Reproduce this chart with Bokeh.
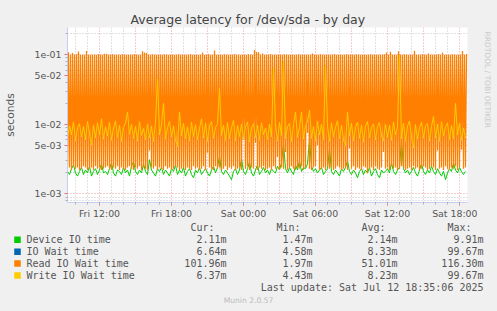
from bokeh.plotting import figure
from bokeh.models import Range1d, FixedTicker
from bokeh.layouts import column, row
from bokeh.core.properties import value
from bokeh.embed import file_html
from bokeh.resources import INLINE

# ---------------- data ----------------
title_text = "Average latency for /dev/sda - by day"
y_label = "seconds"
x_tick_hours = [12, 18, 24, 30, 36, 42]          # hours since Fri 00:00
x_tick_labels = ["Fri 12:00", "Fri 18:00", "Sat 00:00", "Sat 06:00", "Sat 12:00", "Sat 18:00"]
y_ticks = [1e-3, 5e-3, 1e-2, 5e-2, 1e-1]
y_tick_labels = ["1e-03", "5e-03", "1e-02", "5e-02", "1e-01"]

series_names = ["Device IO time", "IO Wait time", "Read IO Wait time", "Write IO Wait time"]
series_colors = ["#00CC00", "#0066B3", "#FF8000", "#FFCC00"]
cur_vals = ["2.11m", "6.64m", "101.96m", "6.37m"]
min_vals = ["1.47m", "4.58m", "1.97m", "4.43m"]
avg_vals = ["2.14m", "8.33m", "51.01m", "8.23m"]
max_vals = ["9.91m", "99.67m", "116.30m", "99.67m"]
stat_headers = ["Cur:", "Min:", "Avg:", "Max:"]
last_update = "Last update: Sat Jul 12 18:35:06 2025"
munin_version = "Munin 2.0.57"
rrd_credit = "RRDTOOL / TOBI OETIKER"

view_start = 9 + 20 / 60      # Fri 09:20
view_end = 42 + 40 / 60       # Sat 18:40

# device IO time (10-minute samples)
device_io = [
    0.0021, 0.0019, 0.0023, 0.0026, 0.0020, 0.0018, 0.0021, 0.0024, 0.0019, 0.0022, 0.0020, 0.0025, 0.0018, 0.0021, 0.0023, 0.0019, 0.0022, 0.0027, 0.0020, 0.0021,
    0.0019, 0.0023, 0.0028, 0.0020, 0.0018, 0.0022, 0.0021, 0.0019, 0.0024, 0.0020, 0.0022, 0.0018, 0.0025, 0.0029, 0.0021, 0.0019, 0.0022, 0.0020, 0.0027, 0.0021,
    0.0019, 0.0031, 0.0022, 0.0020, 0.0018, 0.0023, 0.0021, 0.0024, 0.0019, 0.0022, 0.0020, 0.0018, 0.0023, 0.0021, 0.0026, 0.0019, 0.0022, 0.0020, 0.0024, 0.0018,
    0.0021, 0.0023, 0.0019, 0.0017, 0.0022, 0.0020, 0.0024, 0.0019, 0.0021, 0.0023, 0.0020, 0.0018, 0.0022, 0.0025, 0.0020, 0.0024, 0.0035, 0.0021, 0.0019, 0.0022,
    0.0020, 0.0018, 0.0016, 0.0021, 0.0023, 0.0019, 0.0022, 0.0032, 0.0021, 0.0019, 0.0023, 0.0029, 0.0020, 0.0018, 0.0022, 0.0026, 0.0019, 0.0021, 0.0024, 0.0020,
    0.0022, 0.0019, 0.0023, 0.0021, 0.0020, 0.0025, 0.0022, 0.0028, 0.0054, 0.0023, 0.0020, 0.0024, 0.0021, 0.0019, 0.0026, 0.0022, 0.0030, 0.0021, 0.0024, 0.0023,
    0.0027, 0.0062, 0.0025, 0.0021, 0.0023, 0.0020, 0.0022, 0.0024, 0.0019, 0.0021, 0.0023, 0.0045, 0.0021, 0.0019, 0.0022, 0.0020, 0.0018, 0.0023, 0.0021, 0.0024,
    0.0030, 0.0021, 0.0019, 0.0022, 0.0020, 0.0017, 0.0021, 0.0023, 0.0019, 0.0022, 0.0020, 0.0024, 0.0018, 0.0021, 0.0023, 0.0019, 0.0017, 0.0022, 0.0020, 0.0021,
    0.0023, 0.0020, 0.0028, 0.0021, 0.0019, 0.0022, 0.0024, 0.0060, 0.0023, 0.0020, 0.0022, 0.0019, 0.0021, 0.0024, 0.0020, 0.0018, 0.0022, 0.0027, 0.0021, 0.0019,
    0.0022, 0.0020, 0.0025, 0.0021, 0.0019, 0.0023, 0.0020, 0.0018, 0.0021, 0.0016, 0.0020, 0.0023, 0.0021, 0.0028, 0.0022, 0.0020, 0.0024, 0.0021, 0.0019, 0.0021,
]

# write IO wait time (10-minute samples)
write_wait = [
    0.0062, 0.0095, 0.0071, 0.0108, 0.0058, 0.0089, 0.0102, 0.0066, 0.0093, 0.0060, 0.0110, 0.0074, 0.0050, 0.0098, 0.0064, 0.0105, 0.0070, 0.0120, 0.0061, 0.0092,
    0.0068, 0.0107, 0.0059, 0.0088, 0.0112, 0.0065, 0.0097, 0.0057, 0.0090, 0.0104, 0.0150, 0.0072, 0.0100, 0.0063, 0.0094, 0.0058, 0.0109, 0.0069, 0.0087, 0.0060,
    0.0101, 0.0064, 0.0093, 0.0057, 0.0106, 0.0450, 0.0070, 0.0098, 0.0200, 0.0061, 0.0090, 0.0110, 0.0066, 0.0095, 0.0059, 0.0048, 0.0150, 0.0068, 0.0103, 0.0062,
    0.0092, 0.0058, 0.0108, 0.0067, 0.0099, 0.0060, 0.0087, 0.0120, 0.0064, 0.0104, 0.0057, 0.0095, 0.0110, 0.0063, 0.0091, 0.0100, 0.0330, 0.0069, 0.0097, 0.0059,
    0.0106, 0.0062, 0.0090, 0.0114, 0.0058, 0.0096, 0.0067, 0.0100, 0.0061, 0.0093, 0.0108, 0.0056, 0.0089, 0.0102, 0.0065, 0.0097, 0.0059, 0.0105, 0.0071, 0.0088,
    0.0060, 0.0101, 0.0066, 0.0640, 0.0094, 0.0058, 0.0107, 0.0069, 0.0810, 0.0062, 0.0092, 0.0103, 0.0057, 0.0099, 0.0150, 0.0065, 0.0090, 0.0150, 0.0061, 0.0096,
    0.0109, 0.0160, 0.0063, 0.0093, 0.0058, 0.0110, 0.0070, 0.0101, 0.0060, 0.0700, 0.0094, 0.0057, 0.0105, 0.0066, 0.0091, 0.0112, 0.0062, 0.0097, 0.0059, 0.0049,
    0.0150, 0.0068, 0.0103, 0.0058, 0.0092, 0.0107, 0.0063, 0.0098, 0.0056, 0.0095, 0.0110, 0.0064, 0.0089, 0.0101, 0.0060, 0.0093, 0.0106, 0.0067, 0.0058, 0.0100,
    0.0065, 0.0097, 0.0059, 0.0108, 0.0070, 0.0091, 0.0997, 0.0062, 0.0104, 0.0057, 0.0094, 0.0111, 0.0066, 0.0046, 0.0099, 0.0061, 0.0090, 0.0107, 0.0063, 0.0095,
    0.0102, 0.0058, 0.0093, 0.0130, 0.0064, 0.0100, 0.0057, 0.0109, 0.0068, 0.0091, 0.0105, 0.0060, 0.0096, 0.0062, 0.0200, 0.0070, 0.0103, 0.0059, 0.0088, 0.0064,
]

# overall IO wait time: it runs along the write wait values and lies hidden under them
io_wait = write_wait

# read IO wait time alternates between peaks and troughs every 5-minute sample
read_peaks = [
    0.108, 0.100, 0.106, 0.100, 0.101, 0.111, 0.100, 0.100, 0.100, 0.113, 0.100, 0.100, 0.100, 0.100, 0.100, 0.101, 0.100, 0.100, 0.103, 0.103,
    0.100, 0.100, 0.101, 0.100, 0.100, 0.100, 0.100, 0.101, 0.100, 0.100, 0.100, 0.100, 0.100, 0.101, 0.100, 0.100, 0.100, 0.112, 0.107, 0.106,
    0.100, 0.100, 0.101, 0.100, 0.100, 0.100, 0.100, 0.100, 0.101, 0.100, 0.100, 0.100, 0.100, 0.100, 0.100, 0.101, 0.100, 0.100, 0.100, 0.100,
    0.100, 0.101, 0.100, 0.100, 0.100, 0.100, 0.100, 0.107, 0.100, 0.100, 0.101, 0.100, 0.100, 0.115, 0.100, 0.100, 0.100, 0.100, 0.101, 0.100,
    0.100, 0.100, 0.100, 0.101, 0.100, 0.100, 0.100, 0.100, 0.100, 0.100, 0.101, 0.100, 0.100, 0.117, 0.109, 0.108, 0.100, 0.104, 0.100, 0.100,
    0.100, 0.101, 0.100, 0.100, 0.100, 0.100, 0.100, 0.100, 0.101, 0.100, 0.100, 0.100, 0.100, 0.100, 0.100, 0.101, 0.100, 0.100, 0.100, 0.100,
    0.100, 0.100, 0.104, 0.100, 0.100, 0.100, 0.101, 0.100, 0.100, 0.100, 0.100, 0.100, 0.100, 0.101, 0.100, 0.100, 0.100, 0.100, 0.100, 0.101,
    0.100, 0.100, 0.100, 0.100, 0.101, 0.100, 0.100, 0.100, 0.100, 0.100, 0.100, 0.101, 0.100, 0.100, 0.100, 0.100, 0.100, 0.100, 0.101, 0.107,
    0.100, 0.110, 0.100, 0.100, 0.100, 0.112, 0.100, 0.100, 0.101, 0.100, 0.100, 0.100, 0.100, 0.114, 0.100, 0.100, 0.100, 0.101, 0.100, 0.100,
    0.104, 0.100, 0.100, 0.100, 0.100, 0.101, 0.100, 0.107, 0.100, 0.100, 0.100, 0.100, 0.101, 0.100, 0.100, 0.100, 0.100, 0.113, 0.100, 0.10196,
]
read_troughs = [
    0.0023, 0.0024, 0.0022, 0.0025, 0.0023, 0.0024, 0.0022, 0.0023, 0.0025, 0.0024, 0.0022, 0.0023, 0.0024, 0.0022, 0.0025, 0.0023, 0.0024, 0.0022, 0.0023, 0.0024,
    0.0025, 0.0023, 0.0022, 0.0024, 0.0023, 0.0025, 0.0022, 0.0024, 0.0023, 0.0022, 0.0024, 0.0025, 0.0023, 0.0022, 0.0024, 0.0023, 0.0025, 0.0022, 0.0024, 0.0023,
    0.0022, 0.0042, 0.0024, 0.0023, 0.0025, 0.0022, 0.0024, 0.0023, 0.0022, 0.0025, 0.0023, 0.0024, 0.0022, 0.0023, 0.0025, 0.0024, 0.0022, 0.0023, 0.0024, 0.0022,
    0.0024, 0.0023, 0.0022, 0.0025, 0.0023, 0.0024, 0.0022, 0.0023, 0.0025, 0.0022, 0.0039, 0.0024, 0.0023, 0.0022, 0.0025, 0.0023, 0.0024, 0.0022, 0.0023, 0.0025,
    0.0022, 0.0024, 0.0023, 0.0025, 0.0022, 0.0023, 0.0024, 0.0022, 0.0060, 0.0023, 0.0025, 0.0022, 0.0024, 0.0023, 0.0054, 0.0022, 0.0024, 0.0023, 0.0025, 0.0022,
    0.0023, 0.0024, 0.0022, 0.0025, 0.0023, 0.0034, 0.0022, 0.0024, 0.0023, 0.0040, 0.0022, 0.0024, 0.0025, 0.0023, 0.0022, 0.0024, 0.0023, 0.0025, 0.0022, 0.0024,
    0.0075, 0.0023, 0.0022, 0.0024, 0.0025, 0.0050, 0.0022, 0.0023, 0.0024, 0.0022, 0.0025, 0.0023, 0.0024, 0.0022, 0.0023, 0.0025, 0.0024, 0.0022, 0.0023, 0.0024,
    0.0022, 0.0045, 0.0023, 0.0025, 0.0022, 0.0024, 0.0023, 0.0022, 0.0025, 0.0024, 0.00197, 0.0023, 0.0024, 0.0022, 0.0025, 0.0023, 0.0022, 0.0024, 0.0040, 0.0023,
    0.0024, 0.0022, 0.0025, 0.0023, 0.0024, 0.0022, 0.0023, 0.0025, 0.0024, 0.0022, 0.0023, 0.0024, 0.0022, 0.0025, 0.0023, 0.0024, 0.0022, 0.0023, 0.0025, 0.0024,
    0.0022, 0.0023, 0.0025, 0.0024, 0.0022, 0.0042, 0.0023, 0.0024, 0.0022, 0.0025, 0.0023, 0.0022, 0.0024, 0.0023, 0.0025, 0.0022, 0.0024, 0.0043, 0.0023, 0.0024,
]

# ---------------- series assembly ----------------
read_wait = []
for lo, hi in zip(read_troughs, read_peaks):
    read_wait += [lo, hi]
step5 = 5 / 60
read_t = [view_start + k * step5 for k in range(len(read_wait))]
slow_t = [view_start + 2 * j * step5 for j in range(len(device_io))]

BG = "#F0F0F0"
TXT = "#555555"

# ---------------- chart figure ----------------
CW, CH = 477, 221
p = figure(width=CW, height=CH, output_backend="svg", toolbar_location=None,
           y_axis_type="log", title=title_text,
           x_range=Range1d(view_start, view_end),
           y_range=Range1d(7.52e-4, 0.2455),
           min_border_left=67, min_border_right=10, min_border_top=27, min_border_bottom=18)
p.border_fill_color = BG
p.background_fill_color = "#FFFFFF"
p.outline_line_color = None
p.title.align = "left"
p.title.offset = 63
p.title.standoff = 2
p.title.text_font = "DejaVu Sans"
p.title.text_font_size = "12.5px"
p.title.text_font_style = "normal"
p.title.text_color = "#444444"

# grids
x_major_grid = [h for h in range(10, 43) if h % 3 == 0]
x_minor_grid = [h for h in range(10, 43) if h % 3 != 0]
y_minor_grid = [8e-4, 9e-4] + [m * 1e-3 for m in (2, 3, 4, 6, 7, 8, 9)] + \
               [m * 1e-2 for m in (2, 3, 4, 6, 7, 8, 9)] + [2e-1]
p.xgrid[0].ticker = FixedTicker(ticks=x_major_grid, minor_ticks=x_minor_grid)
p.ygrid[0].ticker = FixedTicker(ticks=y_ticks, minor_ticks=y_minor_grid)
for g in (p.xgrid[0], p.ygrid[0]):
    g.grid_line_color = "#E89A9A"
    g.grid_line_dash = "1 2"
    g.grid_line_width = 1
    g.minor_grid_line_color = "#C4C4C4"
    g.minor_grid_line_dash = "1 2"
    g.minor_grid_line_width = 1

# axes
ax = p.xaxis[0]
ax.ticker = FixedTicker(ticks=x_tick_hours, minor_ticks=list(range(10, 43)))
ax.major_label_overrides = dict(zip(x_tick_hours, x_tick_labels))
ay = p.yaxis[0]
ay.ticker = FixedTicker(ticks=y_ticks, minor_ticks=y_minor_grid)
ay.major_label_overrides = dict(zip(y_ticks, y_tick_labels))
ay.axis_label = y_label
ay.axis_label_text_font = "DejaVu Sans"
ay.axis_label_text_font_size = "10.7px"
ay.axis_label_text_font_style = "normal"
ay.axis_label_text_color = TXT
ay.axis_label_standoff = 14
for a in (ax, ay):
    a.axis_line_color = "#C6CCF2"
    a.major_tick_line_color = "#E07070"
    a.minor_tick_line_color = "#B0B0B0"
    a.major_tick_out = 3
    a.major_tick_in = 0
    a.minor_tick_out = 2
    a.minor_tick_in = 0
    a.major_label_text_font = "DejaVu Sans"
    a.major_label_text_font_size = "9.4px"
    a.major_label_text_color = TXT
ax.major_label_standoff = 2
ay.major_label_standoff = 3

# series lines (drawn in Munin order)
p.line(slow_t, device_io, line_color=series_colors[0], line_width=1)
p.line(slow_t, io_wait, line_color=series_colors[1], line_width=1)
p.line(read_t, read_wait, line_color=series_colors[2], line_width=1.25)
p.line(slow_t, write_wait, line_color=series_colors[3], line_width=1)

# ---------------- credit strip (right) ----------------
credit = figure(width=497 - CW, height=CH, output_backend="svg", toolbar_location=None,
                title=None, x_axis_location=None, y_axis_location=None,
                x_range=Range1d(0, 497 - CW), y_range=Range1d(CH, 0),
                min_border=0)
credit.border_fill_color = BG
credit.background_fill_color = BG
credit.outline_line_color = None
credit.grid.visible = False
credit.text(x=[10], y=[5], text=[rrd_credit], angle=-1.5707963, text_align="left",
            text_baseline="middle", text_font=value("DejaVu Sans"),
            text_font_size=value("7.5px"), text_color="#C8C8C8")

# ---------------- legend figure (bottom) ----------------
LH = 311 - CH
leg = figure(width=497, height=LH, output_backend="svg", toolbar_location=None,
             title=None, x_axis_location=None, y_axis_location=None,
             x_range=Range1d(0, 497), y_range=Range1d(311, CH),
             min_border=0)
leg.border_fill_color = BG
leg.background_fill_color = BG
leg.outline_line_color = None
leg.grid.visible = False

mono = value("DejaVu Sans Mono")
fs = value("10px")
header_y = 227.3
row_y = [239.3, 251.3, 263.1, 275.1]
header_x = [190, 276, 361, 447]
val_right = [226, 312, 397, 483]

leg.text(x=header_x, y=[header_y] * 4, text=stat_headers, text_font=mono, text_font_size=fs,
         text_color=TXT, text_align="left", text_baseline="middle")
leg.scatter(x=[17] * 4, y=row_y, marker="square", size=6.5, color=series_colors, line_width=0)
leg.text(x=[26] * 4, y=row_y, text=series_names, text_font=mono, text_font_size=fs,
         text_color=TXT, text_align="left", text_baseline="middle")
for xr, col in zip(val_right, (cur_vals, min_vals, avg_vals, max_vals)):
    leg.text(x=[xr] * 4, y=row_y, text=col, text_font=mono, text_font_size=fs,
             text_color=TXT, text_align="right", text_baseline="middle")
leg.text(x=[483], y=[287.3], text=[last_update], text_font=mono, text_font_size=fs,
         text_color=TXT, text_align="right", text_baseline="middle")
leg.text(x=[248], y=[300.3], text=[munin_version], text_font=value("DejaVu Sans"),
         text_font_size=value("7.6px"), text_color="#BBBBBB", text_align="center",
         text_baseline="middle")

layout = column(row(p, credit, spacing=0), leg, spacing=0)
layout.styles = {"background-color": BG}
open("out.html", "w").write(file_html(layout, INLINE))
